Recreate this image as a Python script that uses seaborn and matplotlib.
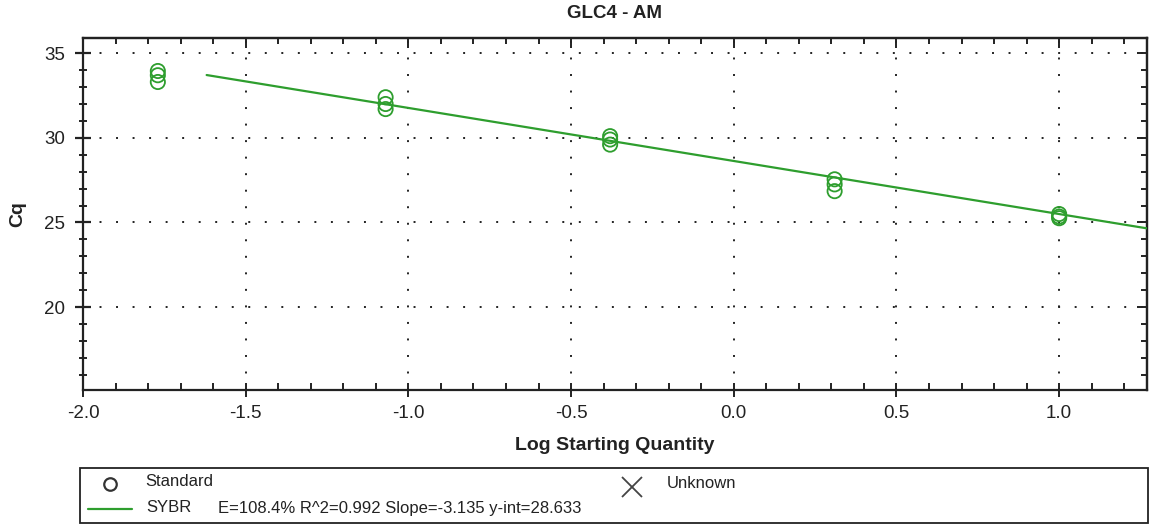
import numpy as np
import pandas as pd
import matplotlib
matplotlib.use("Agg")
import matplotlib.pyplot as plt
from matplotlib.ticker import MultipleLocator, FormatStrFormatter
from matplotlib.lines import Line2D
import seaborn as sns

# Standard curve data (log starting quantity vs. Cq, triplicates)
log_qty = [-1.77, -1.77, -1.77,
           -1.07, -1.07, -1.07,
           -0.38, -0.38, -0.38,
           0.31, 0.31, 0.31,
           1.00, 1.00, 1.00]
cq = [33.95, 33.7, 33.3,
      32.4, 32.0, 31.7,
      30.1, 29.9, 29.6,
      27.55, 27.25, 26.85,
      25.5, 25.35, 25.25]

# Regression reported by the instrument
slope = -3.135
intercept = 28.633
efficiency = 108.4
r_squared = 0.992
fit_x = [-1.62, 1.27]

title = "GLC4 - AM"
x_label = "Log Starting Quantity"
y_label = "Cq"

sns.set_theme(style="white")
plt.rcParams["font.family"] = ["Liberation Sans", "DejaVu Sans"]

green = "#2e9e2e"
text_col = "#222222"

df_pts = pd.DataFrame({"x": log_qty, "y": cq})
df_fit = pd.DataFrame({"x": fit_x, "y": [slope * v + intercept for v in fit_x]})

W, H = 1151, 527
fig = plt.figure(figsize=(W / 100, H / 100), dpi=100)
ax = fig.add_axes([83 / W, 1 - 390 / H, (1147 - 83) / W, (390 - 38) / H])

sns.lineplot(data=df_fit, x="x", y="y", ax=ax, color=green, linewidth=1.6, zorder=3)
sns.scatterplot(data=df_pts, x="x", y="y", ax=ax, marker="o", s=105,
                facecolors="none", edgecolor=green, linewidth=1.3, zorder=4)

ax.set_xlim(-2.0, 1.27)
ax.set_ylim(15.1, 35.9)
ax.xaxis.set_major_locator(MultipleLocator(0.5))
ax.xaxis.set_minor_locator(MultipleLocator(0.1))
ax.yaxis.set_major_locator(MultipleLocator(5))
ax.yaxis.set_minor_locator(MultipleLocator(1))
ax.xaxis.set_major_formatter(FormatStrFormatter("%.1f"))
ax.yaxis.set_major_formatter(FormatStrFormatter("%d"))

ax.grid(True, which="major", color="#222222", linestyle=(0, (1, 7.5)), linewidth=1.4)

for s in ax.spines.values():
    s.set_visible(True)
    s.set_color("#222222")
    s.set_linewidth(1.6)

ax.tick_params(which="both", bottom=True, left=True, top=True, right=True,
               color="#222222", labelsize=13.5, labelcolor=text_col)
ax.tick_params(axis="y", which="major", direction="inout", length=12, width=1.6, pad=7, left=True, right=False)
ax.tick_params(axis="y", which="minor", direction="inout", length=6, width=1.4, left=True, right=False)
ax.tick_params(axis="x", which="major", direction="inout", length=10, width=1.4, pad=6, bottom=True, top=False)
ax.tick_params(axis="x", which="minor", direction="in", length=5, width=1.4, bottom=True, top=False)

# Inward ticks on top and right edges
ax_top = ax.secondary_xaxis("top")
ax_top.xaxis.set_major_locator(MultipleLocator(0.5))
ax_top.xaxis.set_minor_locator(MultipleLocator(0.1))
ax_top.tick_params(which="major", direction="in", length=7, width=1.4, labeltop=False, color="#222222")
ax_top.tick_params(which="minor", direction="in", length=4, width=1.4, labeltop=False, color="#222222")
ax_top.spines["top"].set_linewidth(1.6)
ax_right = ax.secondary_yaxis("right")
ax_right.yaxis.set_major_locator(MultipleLocator(5))
ax_right.yaxis.set_minor_locator(MultipleLocator(1))
ax_right.tick_params(which="major", direction="in", length=7, width=1.4, labelright=False, color="#222222")
ax_right.tick_params(which="minor", direction="in", length=4, width=1.4, labelright=False, color="#222222")
ax_right.spines["right"].set_linewidth(1.6)

ax.set_xlabel("")
ax.set_ylabel("")
fig.text(614 / W, 1 - 14 / H, title, ha="center", va="center",
         fontsize=13.5, fontweight="bold", color=text_col)
fig.text(615 / W, 1 - 445 / H, x_label, ha="center", va="center",
         fontsize=14, fontweight="bold", color=text_col)
fig.text(18 / W, 1 - 214 / H, y_label, ha="center", va="center", rotation=90,
         fontsize=14, fontweight="bold", color=text_col)

# Legend box beneath the plot
box = plt.Rectangle((80 / W, 1 - 523 / H), (1148 - 80) / W, (523 - 468) / H,
                    transform=fig.transFigure, fill=False, edgecolor="#222222", linewidth=1.3)
fig.add_artist(box)
fig.add_artist(Line2D([110 / W], [1 - 484 / H], transform=fig.transFigure, marker="o",
                      markersize=9, markerfacecolor="none", markeredgecolor="#333333",
                      markeredgewidth=1.6, linestyle="none"))
fig.add_artist(Line2D([632 / W], [1 - 487 / H], transform=fig.transFigure, marker="x",
                      markersize=15, markeredgecolor="#444444", markeredgewidth=1.3,
                      linestyle="none"))
fig.add_artist(Line2D([88 / W, 132 / W], [1 - 509 / H, 1 - 509 / H], transform=fig.transFigure,
                      color=green, linewidth=1.6))
leg_font = dict(fontsize=12, color=text_col, va="center", ha="left")
fig.text(145 / W, 1 - 481 / H, "Standard", **leg_font)
fig.text(667 / W, 1 - 483 / H, "Unknown", **leg_font)
fig.text(146 / W, 1 - 508 / H, "SYBR", **leg_font)
fig.text(218 / W, 1 - 508 / H,
         f"E={efficiency}% R^2={r_squared} Slope={slope} y-int={intercept}", **leg_font)

fig.savefig("out.png", dpi=100)
